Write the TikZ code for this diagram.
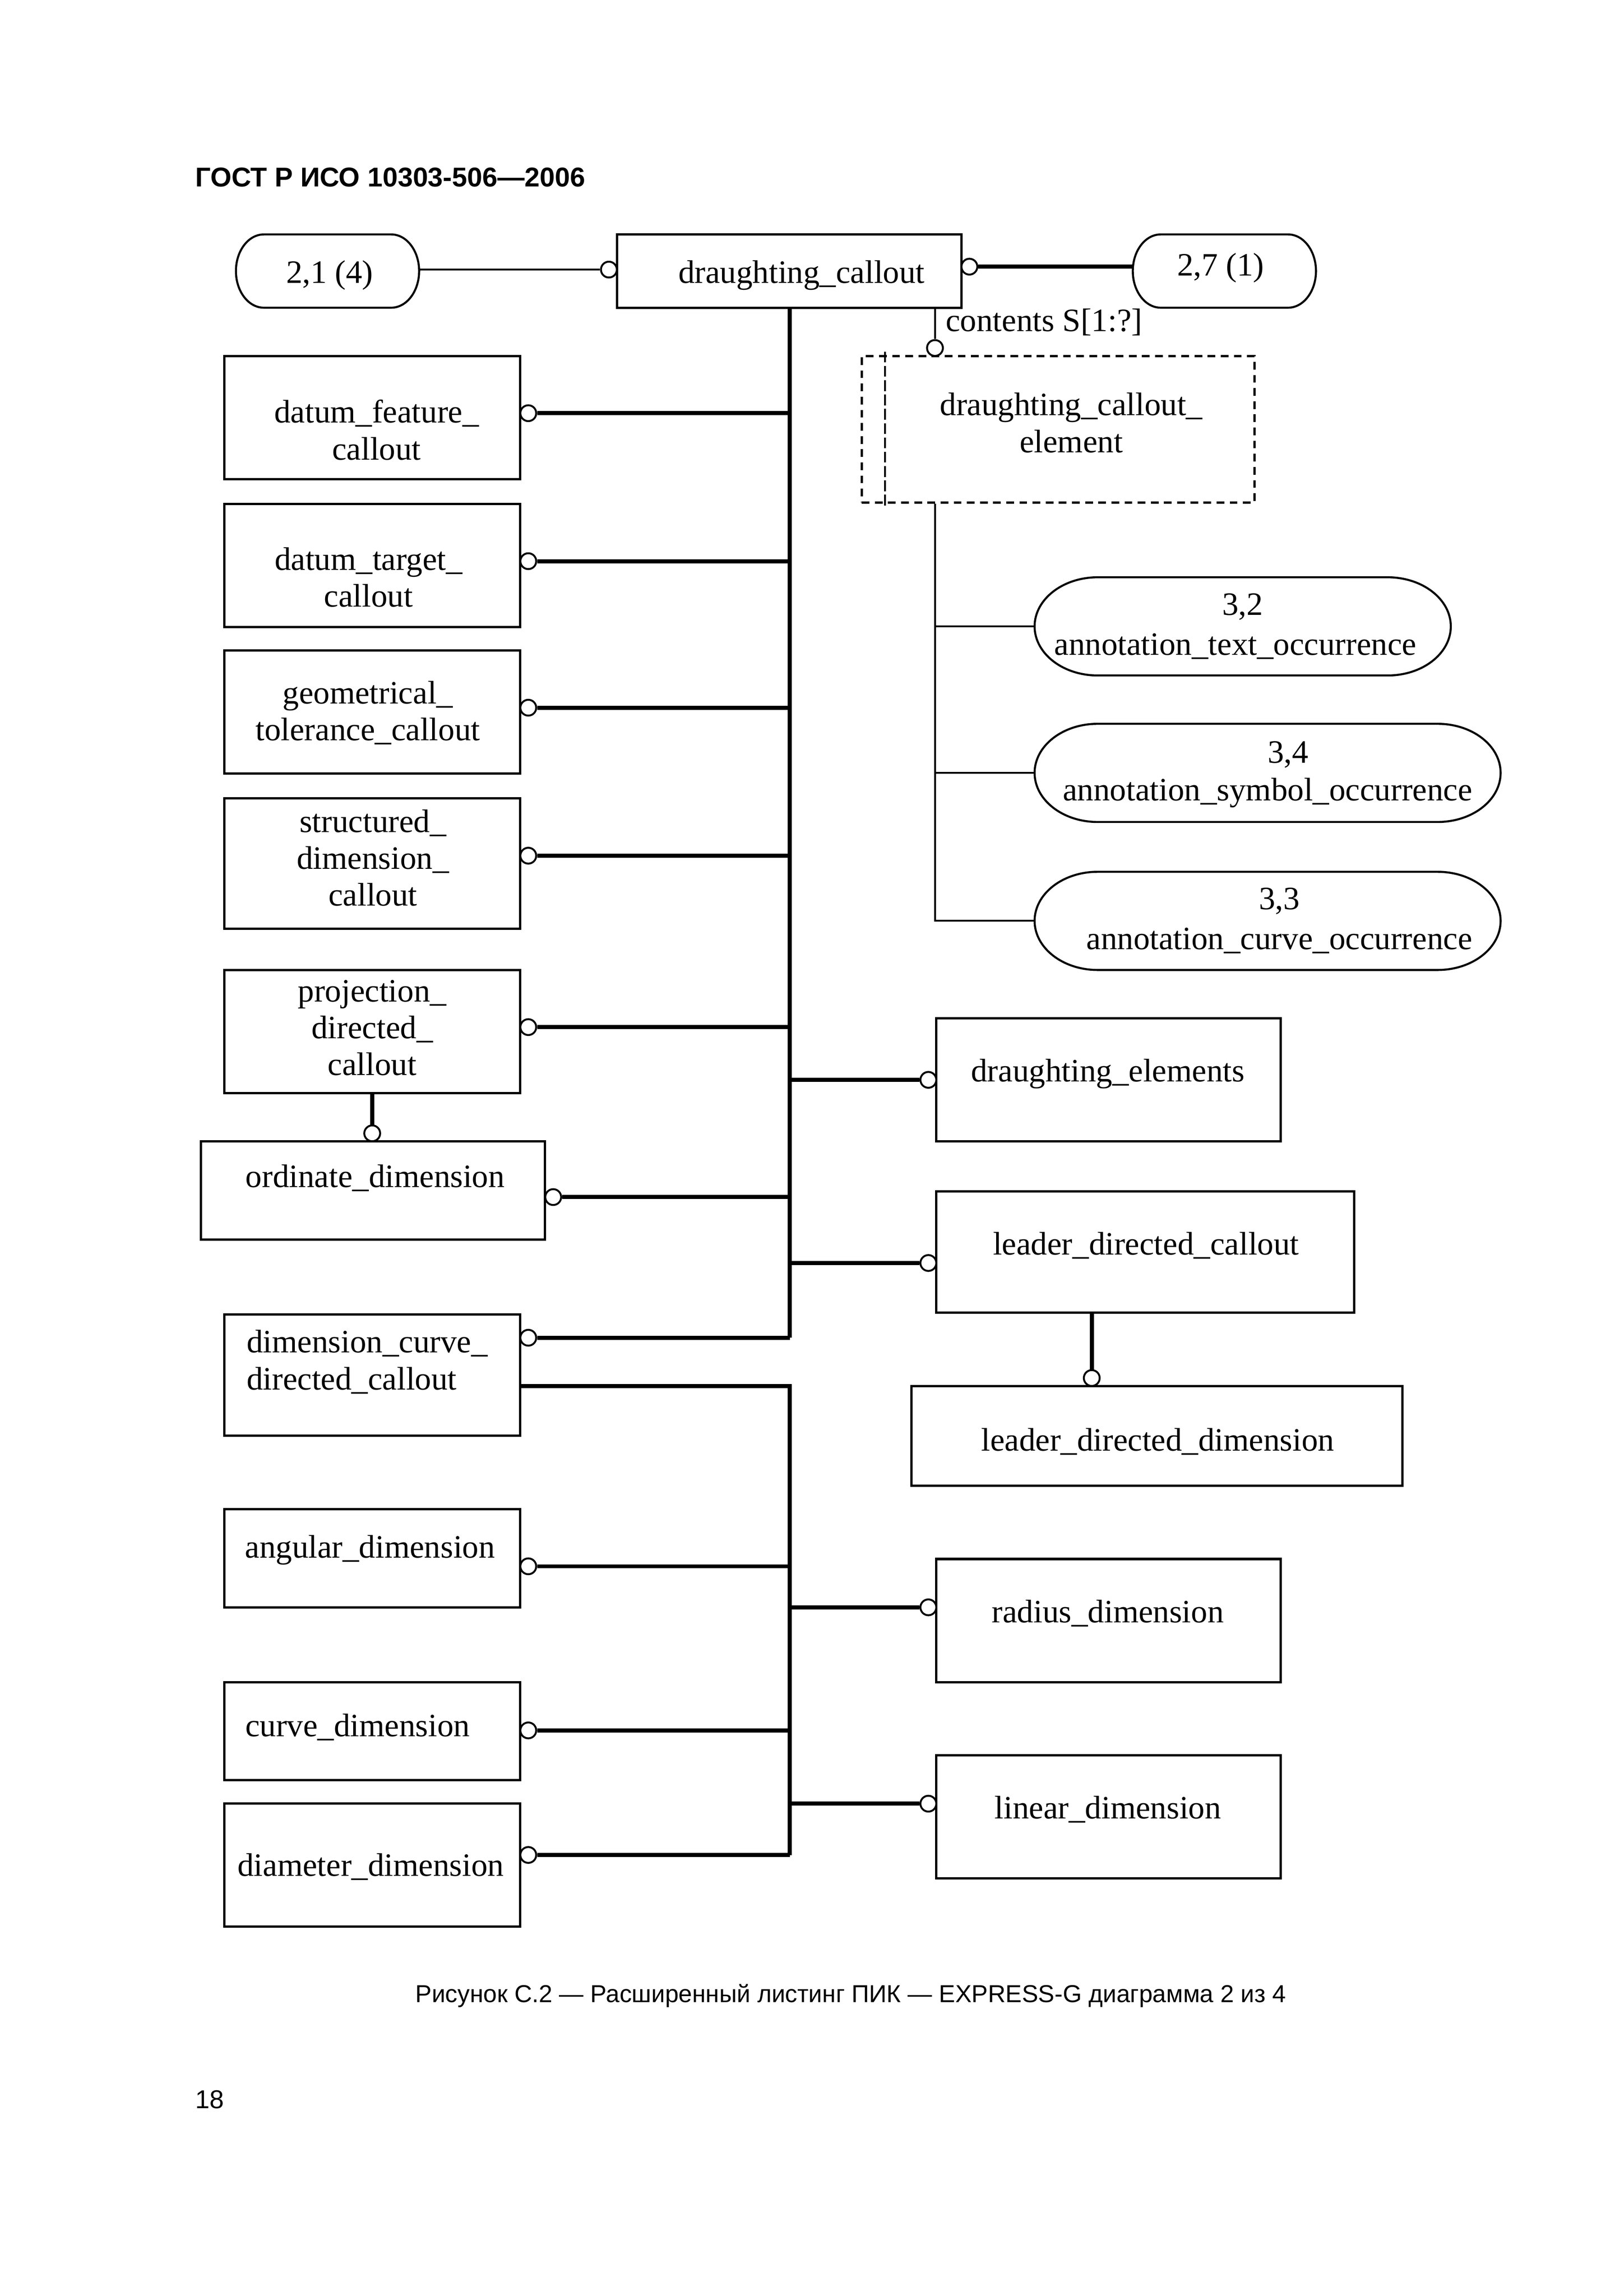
\documentclass[tikz,border=0pt]{standalone}
\usepackage{fontspec}
\setmainfont{Liberation Serif}
\newfontfamily\arialfont{Liberation Sans}
\newcommand\uu{0.18953mm}
% name, x1, y1, x2, y2
\newcommand\mkbox[6][box]{\node[#1, minimum width={(#5-#3)*\uu}, minimum height={(#6-#4)*\uu}] (#2) at ({(#3+#5)/2},{(#4+#6)/2}) {};}
% stadium: name, x1, y1, x2, y2, rx
\newcommand\mkstad[6]{%
  \node[inner sep=0pt, minimum width={(#4-#2)*\uu}, minimum height={(#5-#3)*\uu}] (#1) at ({(#2+#4)/2},{(#3+#5)/2}) {};
  \draw[frame] (#2+#6,#3) -- (#4-#6,#3) arc[start angle=90, end angle=-90, x radius={#6*\uu}, y radius={(#5-#3)/2*\uu}]
    -- (#2+#6,#5) arc[start angle=270, end angle=90, x radius={#6*\uu}, y radius={(#5-#3)/2*\uu}] -- cycle;}
\begin{document}
\begin{tikzpicture}[x=0.18953mm, y=-0.18953mm,
  frame/.style={line width=0.75pt},
  box/.style={draw, line width=0.85pt, inner sep=0pt},
  dbox/.style={draw, line width=0.85pt, dash pattern=on 1mm off 0.7mm, inner sep=0pt},
  txt/.style={font=\fontsize{12}{13.6}\selectfont, align=center, inner sep=0pt},
  thickln/.style={line width=1.5pt},
  thinln/.style={line width=0.7pt},
  ring/.style={circle, draw, line width=0.7pt, fill=white, minimum size=2.05mm, inner sep=0pt},
  sans/.style={font=\arialfont\fontsize{9}{11}\selectfont, inner sep=0pt}
]
\useasboundingbox (0,0) rectangle (1108,1567.03);

% header, caption, page number
\node[sans, font=\arialfont\bfseries\fontsize{10}{12}\selectfont, anchor=west] (hdr) at (133,121) {ГОСТ Р ИСО 10303-506—2006};
\node[sans] (cap) at (580.5,1362) {Рисунок С.2 — Расширенный листинг ПИК — EXPRESS-G диаграмма 2 из 4};
\node[sans, font=\arialfont\fontsize{9.5}{11}\selectfont, anchor=west] (pg) at (133,1433) {18};

% top row
\mkstad{o21}{161}{160}{286}{210}{19}
\node[txt] (t-o21) at (225,188) {2,1 (4)};
\mkbox{dc}{421}{160}{656}{210}
\node[txt] (t-dc) at (547,188) {draughting\_callout};
\mkstad{o27}{773}{160}{898}{210}{19}
\node[txt] (t-o27) at (833,183) {2,7 (1)};

% left column boxes
\mkbox{dfc}{153}{243}{355}{327}
\node[txt] (t-dfc) at (257,293.5) {datum\_feature\_\\callout};
\mkbox{dtc}{153}{344}{355}{428}
\node[txt] (t-dtc) at (251.5,394) {datum\_target\_\\callout};
\mkbox{gtc}{153}{444}{355}{528}
\node[txt] (t-gtc) at (251,486.5) {geometrical\_\\tolerance\_callout};
\mkbox{sdc}{153}{545}{355}{634}
\node[txt] (t-sdc) at (254.5,585.5) {structured\_\\dimension\_\\callout};
\mkbox{pdc}{153}{662}{355}{746}
\node[txt] (t-pdc) at (254,701.5) {projection\_\\directed\_\\callout};
\mkbox{od}{137}{779}{372}{846}
\node[txt] (t-od) at (256,804) {ordinate\_dimension};
\mkbox{dcdc}{153}{897}{355}{980}
\node[txt, align=left, anchor=west] (t-dcdc) at (168,929.5) {dimension\_curve\_\\directed\_callout};
\mkbox{ad}{153}{1030}{355}{1097}
\node[txt] (t-ad) at (252.5,1058) {angular\_dimension};
\mkbox{cd}{153}{1148}{355}{1215}
\node[txt] (t-cd) at (244,1179) {curve\_dimension};
\mkbox{dd}{153}{1231}{355}{1315}
\node[txt] (t-dd) at (253,1274) {diameter\_dimension};

% right column
\mkbox[dbox]{dce}{588}{243}{856}{343}
\node[txt] (t-dce) at (731,288.5) {draughting\_callout\_\\element};
\draw[line width=0.6pt, dash pattern=on 1.4mm off 0.45mm] (604,240) -- (604,346);

\mkstad{a32}{706}{394}{990}{461}{43}
\node[txt] (t-a32n) at (848,414) {3,2};
\node[txt] (t-a32) at (843,441) {annotation\_text\_occurrence};
\mkstad{a34}{706}{494}{1024}{561}{43}
\node[txt] (t-a34n) at (879,515) {3,4};
\node[txt] (t-a34) at (865,541) {annotation\_symbol\_occurrence};
\mkstad{a33}{706}{595}{1024}{662}{43}
\node[txt] (t-a33n) at (873,615) {3,3};
\node[txt] (t-a33) at (873,642) {annotation\_curve\_occurrence};

\mkbox{de}{639}{695}{874}{779}
\node[txt] (t-de) at (756,733) {draughting\_elements};
\mkbox{ldc}{639}{813}{924}{896}
\node[txt] (t-ldc) at (782,850) {leader\_directed\_callout};
\mkbox{ldd}{622}{946}{957}{1014}
\node[txt] (t-ldd) at (790,984) {leader\_directed\_dimension};
\mkbox{rd}{639}{1064}{874}{1148}
\node[txt] (t-rd) at (756,1101) {radius\_dimension};
\mkbox{ld}{639}{1198}{874}{1282}
\node[txt] (t-ld) at (756,1235) {linear\_dimension};

% bus coordinates
\coordinate (b1b) at (539,913);
\coordinate (b2c) at (539,946);
\coordinate (b2b) at (539,1266);
\coordinate (v2b) at (638,628.5);

% rings
\node[ring] (r-o21) at (415.5,184) {};
\node[ring] (r-o27) at (661.5,182) {};
\node[ring] (r-dce) at (638,237.5) {};
\node[ring] (r-dfc) at (360.5,282) {};
\node[ring] (r-dtc) at (360.5,383) {};
\node[ring] (r-gtc) at (360.5,483) {};
\node[ring] (r-sdc) at (360.5,584) {};
\node[ring] (r-pdc) at (360.5,701) {};
\node[ring] (r-od) at (377.5,817) {};
\node[ring] (r-odv) at (254,773.5) {};
\node[ring] (r-dcdc) at (360.5,913) {};
\node[ring] (r-de) at (633.5,737) {};
\node[ring] (r-ldc) at (633.5,862) {};
\node[ring] (r-ldd) at (745,940.5) {};
\node[ring] (r-ad) at (360.5,1069) {};
\node[ring] (r-cd) at (360.5,1181) {};
\node[ring] (r-dd) at (360.5,1266) {};
\node[ring] (r-rd) at (633.5,1097) {};
\node[ring] (r-ld) at (633.5,1231) {};

% top connectors
\draw[thinln] (r-o21.west -| o21.east) -- (r-o21.west);
\draw[thickln] (r-o27.east) -- (r-o27.east -| o27.west);
\draw[thinln] (dc.south -| r-dce) -- (r-dce.north);
\node[txt, anchor=west] (t-cont) at (645,220) {contents S[1:?]};

% first bus
\draw[thickln] (dc.south -| b1b) -- (b1b);
\foreach \r in {dfc,dtc,gtc,sdc,pdc,od,dcdc}{\draw[thickln] (r-\r.east) -- (r-\r.east -| b1b);}
\foreach \r in {de,ldc}{\draw[thickln] (r-\r.west) -- (r-\r.west -| b1b);}
\draw[thickln] (pdc.south -| r-odv) -- (r-odv.north);
\draw[thickln] (ldc.south -| r-ldd) -- (r-ldd.north);

% second bus
\draw[thickln] (dcdc.east |- b2c) -- (b2c) -- (b2b);
\foreach \r in {ad,cd,dd}{\draw[thickln] (r-\r.east) -- (r-\r.east -| b2b);}
\foreach \r in {rd,ld}{\draw[thickln] (r-\r.west) -- (r-\r.west -| b2b);}

% annotation branches
\draw[thinln] (dce.south -| v2b) -- (v2b) -- (a33.west);
\draw[thinln] (a32.west -| v2b) -- (a32.west);
\draw[thinln] (a34.west -| v2b) -- (a34.west);
\end{tikzpicture}
\end{document}
